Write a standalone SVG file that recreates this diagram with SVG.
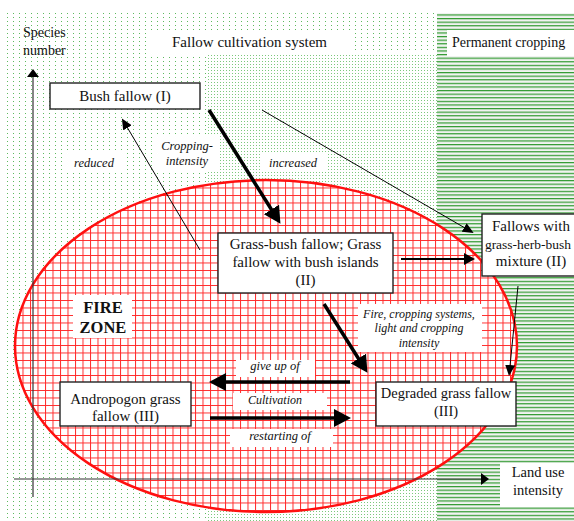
<svg xmlns="http://www.w3.org/2000/svg" width="574" height="521" viewBox="0 0 574 521">
  <defs>
    <pattern id="dotsSparse" patternUnits="userSpaceOnUse" width="6" height="4">
      <rect x="1" y="1" width="1" height="1" fill="#5fba5f"/>
    </pattern>
    <pattern id="dotsDense" patternUnits="userSpaceOnUse" width="3" height="3">
      <rect x="1" y="1" width="1" height="1" fill="#7cc87c"/>
    </pattern>
    <pattern id="stripes" patternUnits="userSpaceOnUse" width="10" height="3.6">
      <rect width="10" height="3.6" fill="#f1f3f1"/>
      <rect y="0" width="10" height="1.2" fill="#2f9a2f"/>
    </pattern>
    <pattern id="redGrid" patternUnits="userSpaceOnUse" width="7.5" height="7.5">
      <path d="M0.5,0 V7.5 M0,0.5 H7.5" stroke="#ff2a2a" stroke-width="1" fill="none"/>
    </pattern>
    <marker id="headThick" markerUnits="userSpaceOnUse" markerWidth="17" markerHeight="18" refX="3" refY="9" orient="auto">
      <path d="M0,0 L17,9 L0,18 z" fill="#000"/>
    </marker>
    <marker id="headMed" markerUnits="userSpaceOnUse" markerWidth="11" markerHeight="12" refX="2" refY="6" orient="auto">
      <path d="M0,0 L11,6 L0,12 z" fill="#000"/>
    </marker>
    <marker id="headThin" markerUnits="userSpaceOnUse" markerWidth="11" markerHeight="10" refX="1" refY="5" orient="auto">
      <path d="M0,0 L11,5 L0,10 z" fill="#000"/>
    </marker>
    <marker id="headAxis" markerUnits="userSpaceOnUse" markerWidth="8" markerHeight="12" refX="1" refY="6" orient="auto">
      <path d="M0,0 L8,6 L0,12 z" fill="#000"/>
    </marker>
  </defs>
  <style>
    .box { fill: #fff; stroke: #222; stroke-width: 1.4; }
    .bg { fill: #fff; }
    .t { font-family: "Liberation Serif", "Times New Roman", serif; font-size: 15px; fill: #111; }
    .c { text-anchor: middle; }
    .it { font-family: "Liberation Serif", "Times New Roman", serif; font-style: italic; font-size: 12.5px; fill: #111; text-anchor: middle; }
    .fz { font-family: "Liberation Serif", "Times New Roman", serif; font-weight: bold; font-size: 16.5px; fill: #111; text-anchor: middle; }
    .thick { stroke: #000; stroke-width: 3.5; fill: none; marker-end: url(#headThick); }
    .med { stroke: #000; stroke-width: 2; fill: none; marker-end: url(#headMed); }
    .thin { stroke: #000; stroke-width: 1; fill: none; marker-end: url(#headThin); }
    .axis { stroke: #333; stroke-width: 1.2; fill: none; marker-end: url(#headAxis); }
  </style>

  <!-- backgrounds -->
  <g id="background">
    <rect width="574" height="521" fill="#fff"/>
    <rect x="7" y="13" width="430" height="508" fill="url(#dotsSparse)"/>
    <rect x="207" y="53" width="230" height="468" fill="#fff"/>
    <rect x="207" y="53" width="230" height="468" fill="url(#dotsDense)"/>
    <rect x="437" y="13" width="137" height="508" fill="url(#stripes)"/>
  </g>

  <!-- fire zone ellipse -->
  <g id="fire-zone">
    <ellipse cx="266" cy="346" rx="251" ry="166" fill="#fff"/>
    <ellipse cx="266" cy="346" rx="251" ry="166" fill="url(#redGrid)" stroke="#ff1010" stroke-width="2.5"/>
    <rect x="73" y="295" width="59" height="43" class="bg"/>
    <text x="103" y="313" class="fz">FIRE</text>
    <text x="103" y="333" class="fz">ZONE</text>
  </g>

  <!-- axes -->
  <g id="axes">
    <line x1="33" y1="497" x2="33" y2="76" class="axis"/>
    <line x1="14" y1="479" x2="482" y2="479" class="axis"/>
    <text x="23" y="37" class="t" style="font-size:14px">Species</text>
    <text x="23" y="55" class="t" style="font-size:14px">number</text>
    <rect x="500" y="463" width="74" height="44" class="bg"/>
    <text x="538" y="477" class="t c" style="font-size:14.5px">Land use</text>
    <text x="538" y="495" class="t c" style="font-size:14.5px">intensity</text>
  </g>

  <!-- headings -->
  <g id="heading-fallow">
    <rect x="150" y="31" width="202" height="24" class="bg"/>
    <text x="172" y="47" class="t">Fallow cultivation system</text>
  </g>
  <g id="heading-permanent">
    <rect x="447" y="30" width="127" height="26" class="bg"/>
    <text x="452" y="47" class="t" style="font-size:14px">Permanent cropping</text>
  </g>

  <!-- connectors -->
  <g id="connectors">
    <line x1="209" y1="110" x2="273" y2="212" class="thick"/>
    <line x1="324" y1="304" x2="360" y2="361" class="thick"/>
    <line x1="350" y1="382" x2="223" y2="382" class="thick"/>
    <line x1="210" y1="418" x2="337" y2="418" class="thick"/>
    <line x1="401" y1="259" x2="466" y2="259" class="med"/>
    <line x1="200" y1="250" x2="127" y2="127" class="thin"/>
    <line x1="262" y1="110" x2="465" y2="228" class="thin"/>
    <line x1="518" y1="286" x2="510" y2="366" class="thin"/>
  </g>

  <!-- connector labels -->
  <g id="labels">
    <rect x="65" y="153" width="60" height="19" class="bg"/>
    <text x="94" y="167" class="it">reduced</text>
    <rect x="156" y="136" width="62" height="34" class="bg"/>
    <text x="187" y="150" class="it">Cropping-</text>
    <text x="187" y="165" class="it">intensity</text>
    <rect x="260" y="154" width="66" height="18" class="bg"/>
    <text x="293" y="167" class="it">increased</text>
    <rect x="358" y="304" width="124" height="48" class="bg"/>
    <text x="419" y="318" class="it" style="font-size:12px">Fire, cropping systems,</text>
    <text x="419" y="332" class="it" style="font-size:12px">light and cropping</text>
    <text x="419" y="347" class="it" style="font-size:12px">intensity</text>
    <rect x="236" y="360" width="79" height="17" class="bg"/>
    <text x="275" y="370" class="it">give up of</text>
    <rect x="233" y="393" width="94" height="17" class="bg"/>
    <text x="275" y="404" class="it" style="font-size:12px">Cultivation</text>
    <rect x="230" y="429" width="103" height="18" class="bg"/>
    <text x="280" y="440" class="it">restarting of</text>
  </g>

  <!-- nodes -->
  <g id="bush-fallow">
    <rect x="50" y="83" width="150" height="26" class="box"/>
    <text x="125" y="101" class="t c">Bush fallow (I)</text>
  </g>
  <g id="grass-bush-fallow">
    <rect x="218" y="233" width="175" height="60" class="box"/>
    <text x="305.5" y="249" class="t c">Grass-bush fallow; Grass</text>
    <text x="305.5" y="267" class="t c">fallow with bush islands</text>
    <text x="305.5" y="285" class="t c">(II)</text>
  </g>
  <g id="fallows-mixture">
    <rect x="482" y="214" width="100" height="62" class="box"/>
    <text x="531" y="231" class="t c">Fallows with</text>
    <text x="528" y="249" class="t c" style="font-size:13.5px">grass-herb-bush</text>
    <text x="531" y="266" class="t c">mixture (II)</text>
  </g>
  <g id="andropogon">
    <rect x="60" y="382" width="131" height="44" class="box"/>
    <text x="125.5" y="404" class="t c">Andropogon grass</text>
    <text x="125.5" y="421" class="t c">fallow (III)</text>
  </g>
  <g id="degraded">
    <rect x="376" y="382" width="140" height="44" class="box"/>
    <text x="446" y="398" class="t c" style="font-size:14.5px">Degraded grass fallow</text>
    <text x="446" y="416" class="t c" style="font-size:14.5px">(III)</text>
  </g>
</svg>
